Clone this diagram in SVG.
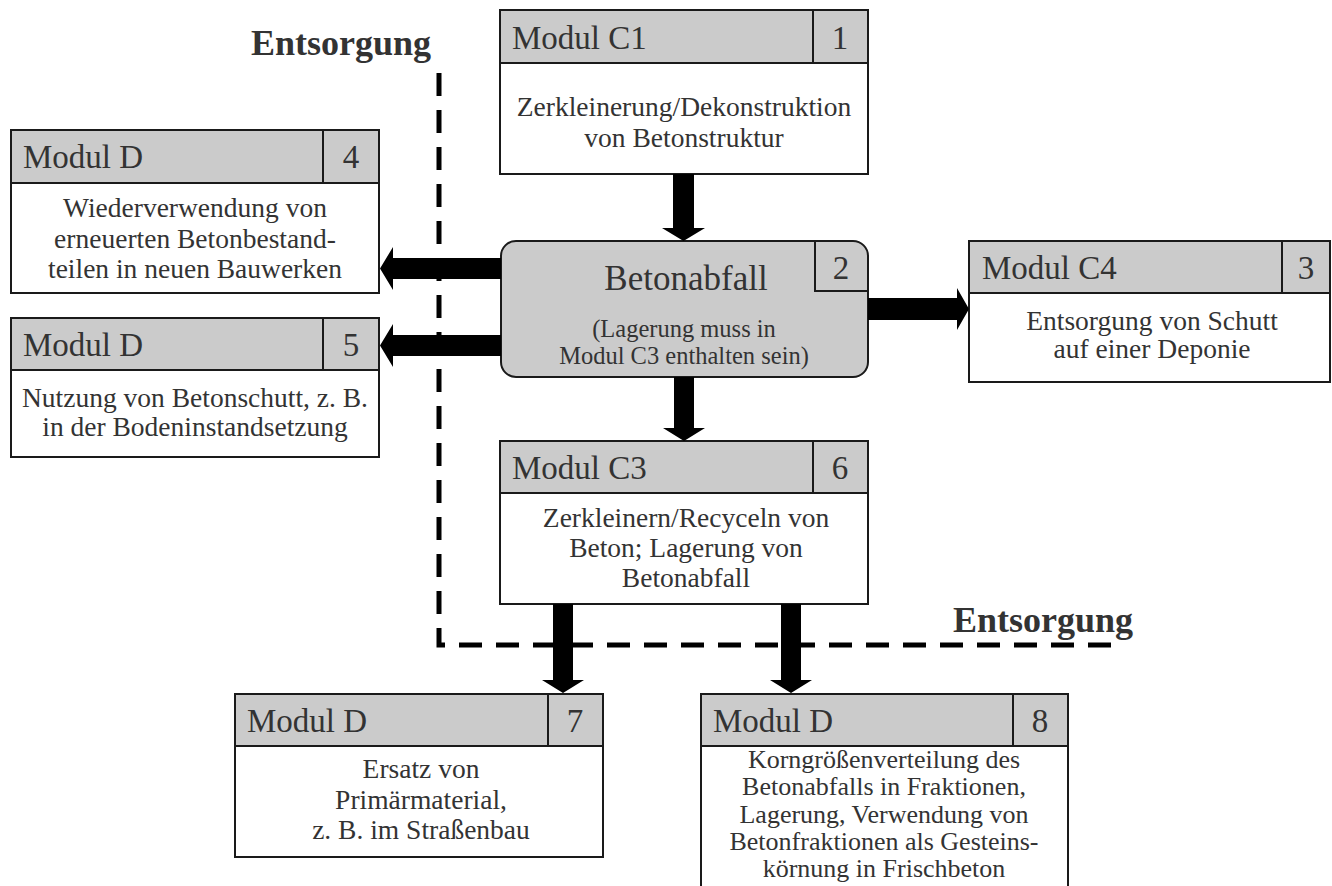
<svg xmlns="http://www.w3.org/2000/svg" width="1332" height="886" viewBox="0 0 1332 886">
<style>
.box{fill:#ffffff;stroke:#1a1a1a;stroke-width:2}
.hdr{fill:#cbcbcb;stroke:#1a1a1a;stroke-width:2}
.ln{fill:none;stroke:#1a1a1a;stroke-width:2}
.h{font-family:"Liberation Serif",serif;font-size:33px;fill:#333333}
.num{font-family:"Liberation Serif",serif;font-size:33px;fill:#333333;text-anchor:middle}
.b{font-family:"Liberation Serif",serif;font-size:27.5px;fill:#333333;text-anchor:middle}
.b8{font-family:"Liberation Serif",serif;font-size:26px;fill:#333333;text-anchor:middle}
.t{font-family:"Liberation Serif",serif;font-size:35px;fill:#333333;text-anchor:middle}
.s{font-family:"Liberation Serif",serif;font-size:24.5px;fill:#333333;text-anchor:middle}
.e{font-family:"Liberation Serif",serif;font-size:36px;font-weight:bold;fill:#333333}
.arr{fill:#000000}
.dash{fill:none;stroke:#000000;stroke-width:5;stroke-dasharray:23 14}
</style>
<rect width="1332" height="886" fill="#ffffff"/>

<g id="boundary">
<path class="dash" d="M439,73 V645 H1125"/>
<text class="e" x="251" y="55">Entsorgung</text>
<text class="e" x="953" y="632">Entsorgung</text>
</g>

<g id="node1">
<rect class="box" x="500" y="10" width="368" height="164"/>
<rect class="hdr" x="500" y="10" width="368" height="53"/>
<line class="ln" x1="813" y1="10" x2="813" y2="63"/>
<text class="h" x="512" y="49">Modul C1</text>
<text class="num" x="840" y="49">1</text>
<text class="b" x="684" y="116">Zerkleinerung/Dekonstruktion</text>
<text class="b" x="684" y="147">von Betonstruktur</text>
</g>

<g id="node2">
<rect class="hdr" x="501" y="241" width="367" height="136" rx="15" ry="15"/>
<path class="ln" d="M815,241 V291 H868"/>
<text class="num" x="841" y="279">2</text>
<text class="t" x="686" y="290">Betonabfall</text>
<text class="s" x="684" y="337">(Lagerung muss in</text>
<text class="s" x="684" y="364">Modul C3 enthalten sein)</text>
</g>

<g id="node3">
<rect class="box" x="969" y="241" width="361" height="141"/>
<rect class="hdr" x="969" y="241" width="361" height="52"/>
<line class="ln" x1="1282" y1="241" x2="1282" y2="293"/>
<text class="h" x="982" y="279">Modul C4</text>
<text class="num" x="1306" y="279">3</text>
<text class="b" x="1152" y="330">Entsorgung von Schutt</text>
<text class="b" x="1152" y="358">auf einer Deponie</text>
</g>

<g id="node4">
<rect class="box" x="11" y="130" width="368" height="163"/>
<rect class="hdr" x="11" y="130" width="368" height="53"/>
<line class="ln" x1="323" y1="130" x2="323" y2="183"/>
<text class="h" x="23" y="168">Modul D</text>
<text class="num" x="351" y="168">4</text>
<text class="b" x="195" y="217">Wiederverwendung von</text>
<text class="b" x="195" y="248">erneuerten Betonbestand-</text>
<text class="b" x="195" y="278">teilen in neuen Bauwerken</text>
</g>

<g id="node5">
<rect class="box" x="11" y="318" width="368" height="139"/>
<rect class="hdr" x="11" y="318" width="368" height="52"/>
<line class="ln" x1="323" y1="318" x2="323" y2="370"/>
<text class="h" x="23" y="356">Modul D</text>
<text class="num" x="351" y="356">5</text>
<text class="b" x="195" y="407">Nutzung von Betonschutt, z. B.</text>
<text class="b" x="195" y="436">in der Bodeninstandsetzung</text>
</g>

<g id="node6">
<rect class="box" x="500" y="441" width="368" height="163"/>
<rect class="hdr" x="500" y="441" width="368" height="52"/>
<line class="ln" x1="813" y1="441" x2="813" y2="493"/>
<text class="h" x="512" y="479">Modul C3</text>
<text class="num" x="840" y="479">6</text>
<text class="b" x="686" y="527">Zerkleinern/Recyceln von</text>
<text class="b" x="686" y="557">Beton; Lagerung von</text>
<text class="b" x="686" y="587">Betonabfall</text>
</g>

<g id="node7">
<rect class="box" x="235" y="694" width="368" height="163"/>
<rect class="hdr" x="235" y="694" width="368" height="52"/>
<line class="ln" x1="548" y1="694" x2="548" y2="746"/>
<text class="h" x="247" y="732">Modul D</text>
<text class="num" x="575" y="732">7</text>
<text class="b" x="421" y="778">Ersatz von</text>
<text class="b" x="421" y="809">Primärmaterial,</text>
<text class="b" x="421" y="839">z. B. im Straßenbau</text>
</g>

<g id="node8">
<rect class="box" x="701" y="694" width="367" height="220"/>
<rect class="hdr" x="701" y="694" width="367" height="52"/>
<line class="ln" x1="1013" y1="694" x2="1013" y2="746"/>
<text class="h" x="713" y="732">Modul D</text>
<text class="num" x="1040" y="732">8</text>
<text class="b8" x="884" y="768">Korngrößenverteilung des</text>
<text class="b8" x="884" y="795">Betonabfalls in Fraktionen,</text>
<text class="b8" x="884" y="823">Lagerung, Verwendung von</text>
<text class="b8" x="884" y="850">Betonfraktionen als Gesteins-</text>
<text class="b8" x="884" y="877">körnung in Frischbeton</text>
</g>

<g id="connectors">
<polygon class="arr" points="673,174 694,174 694,228 705,228 683.5,241 662,228 673,228"/>
<polygon class="arr" points="674,377 694,377 694,428 705,428 684,441 663,428 674,428"/>
<polygon class="arr" points="501,258 501,279 393,279 393,290 380,268.5 393,247 393,258"/>
<polygon class="arr" points="501,335 501,356 393,356 393,367 380,345.5 393,324 393,335"/>
<polygon class="arr" points="868,298 868,320 957,320 957,330 969,309 957,288 957,298"/>
<polygon class="arr" points="553,604 573,604 573,680 584,680 563,693 542,680 553,680"/>
<polygon class="arr" points="781,604 801,604 801,680 812,680 791,693 770,680 781,680"/>
</g>
</svg>
